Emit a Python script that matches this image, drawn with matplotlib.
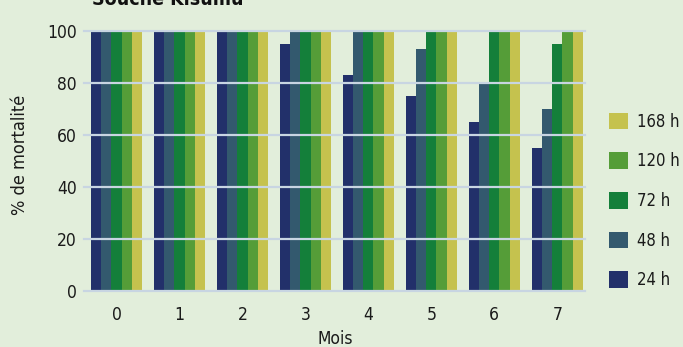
import matplotlib
matplotlib.use("Agg")
import matplotlib.pyplot as plt
import numpy as np

months = ["0", "1", "2", "3", "4", "5", "6", "7"]
series_names = ["24 h", "48 h", "72 h", "120 h", "168 h"]
v24 = [100, 100, 100, 95, 83, 75, 65, 55]
v48 = [100, 100, 100, 100, 100, 93, 80, 70]
v72 = [100, 100, 100, 100, 100, 100, 100, 95]
v120 = [100, 100, 100, 100, 100, 100, 100, 100]
v168 = [100, 100, 100, 100, 100, 100, 100, 100]
colors = ["#22306a", "#33596e", "#147f3a", "#559d38", "#c5c24e"]

plt.rcParams["font.family"] = ["DejaVu Sans"]
plt.rcParams["font.stretch"] = "condensed"

bg = "#e2eedb"
fig = plt.figure(figsize=(6.83, 3.47), dpi=100, facecolor=bg)
ax = fig.add_axes([0.1230, 0.1628, 0.7335, 0.7478], facecolor=bg)

x = np.arange(len(months))
w = 0.162
data = [v24, v48, v72, v120, v168]
handles = []
for i, (vals, c, n) in enumerate(zip(data, colors, series_names)):
    b = ax.bar(x + (i - 2) * w, vals, w, color=c, label=n, zorder=2, linewidth=0)
    handles.append(b)

ax.set_xlim(-0.516, 7.44)
ax.set_ylim(0, 100)
ax.set_yticks([0, 20, 40, 60, 80, 100])
ax.yaxis.grid(True, color="#c8d5e2", linewidth=1.6, zorder=3)
for gl in ax.get_ygridlines():
    gl.set_clip_on(False)
ax.set_axisbelow(False)
for s in ax.spines.values():
    s.set_visible(False)
ax.tick_params(length=0, labelsize=12.5, colors="#1a1a1a")
ax.tick_params(axis="y", pad=5)
ax.tick_params(axis="x", pad=11)
ax.set_xticks(x)
ax.set_xticklabels(months)

ax.set_xlabel("Mois", fontsize=12.5, va="center", color="#1a1a1a")
ax.xaxis.set_label_coords(0.501, -0.185)
ax.set_ylabel("% de mortalité", fontsize=13, va="center", color="#1a1a1a")
ax.yaxis.set_label_coords(-0.128, 0.521)

fig.text(92 / 683, 1 - 5 / 347, "Souche Kisumu", fontsize=14, fontweight="bold",
         va="baseline", ha="left", color="#111111")

leg = fig.legend(handles[::-1], series_names[::-1], loc="center left",
                 bbox_to_anchor=(609 / 683, 1 - 201 / 347), bbox_transform=fig.transFigure,
                 frameon=False, fontsize=12, handlelength=1.15, handleheight=1.15,
                 labelspacing=1.3, handletextpad=0.55, borderpad=0, borderaxespad=0)
for t in leg.get_texts():
    t.set_color("#1a1a1a")

fig.savefig("out.png", dpi=100, facecolor=bg)
